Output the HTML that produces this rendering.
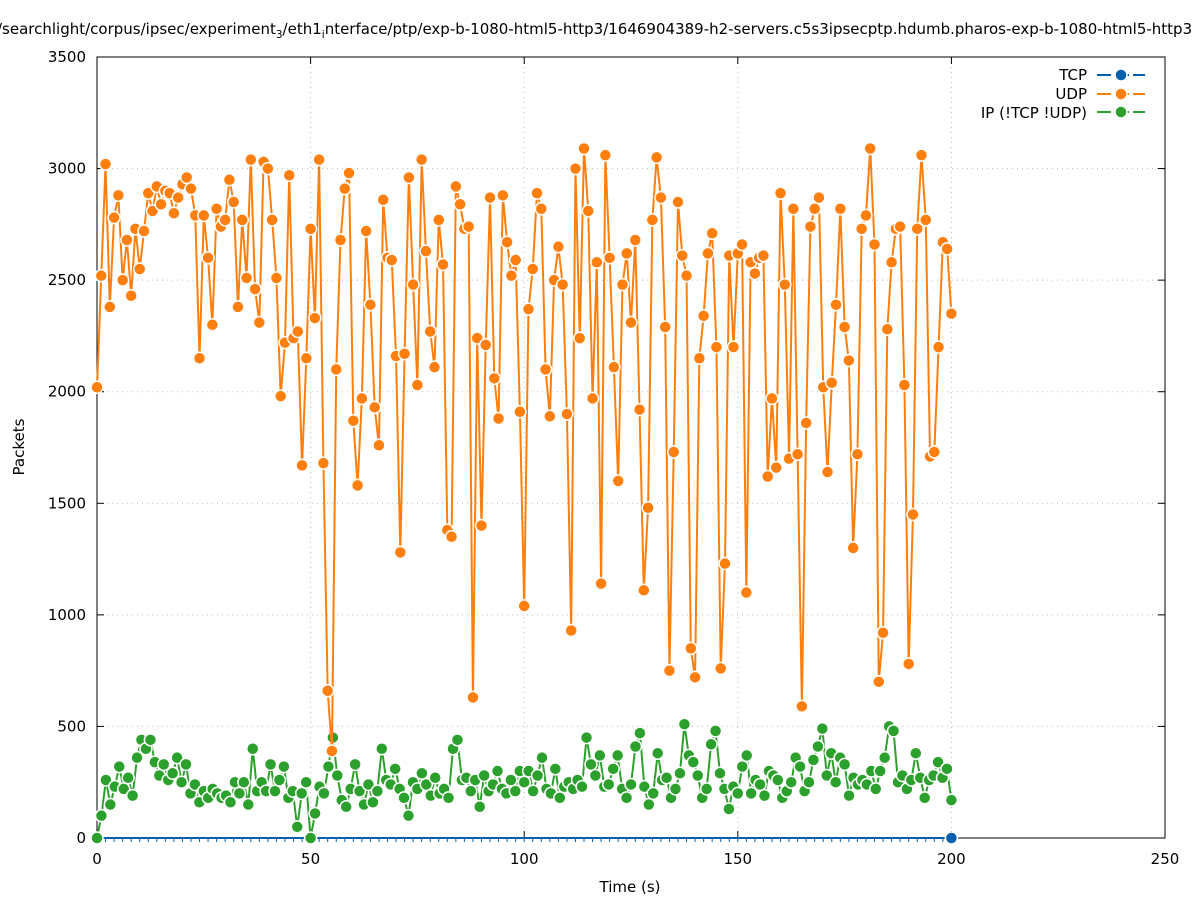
<!DOCTYPE html>
<html><head><meta charset="utf-8"><style>
body{margin:0;background:#fff}
svg{display:block;font-family:"DejaVu Sans","Liberation Sans",sans-serif}
</style></head><body>
<svg id="c" width="1197" height="900" xmlns="http://www.w3.org/2000/svg">
<rect width="1197" height="900" fill="#fff"/>
<text x="-3" y="34" font-size="15" fill="#000">/searchlight/corpus/ipsec/experiment<tspan font-size="10.5" dy="4">3</tspan><tspan dy="-4">/eth1</tspan><tspan font-size="10.5" dy="4">i</tspan><tspan dy="-4">nterface/ptp/exp-b-1080-html5-http3/1646904389-h2-servers.c5s3ipsecptp.hdumb.pharos-exp-b-1080-html5-http3</tspan></text>
<g id="grid"></g>
<rect x="97" y="57" width="1068" height="781" fill="none" stroke="#000" stroke-width="1"/>
<g id="ticks" font-size="15"></g>
<text x="630" y="892" font-size="15" text-anchor="middle">Time (s)</text>
<text x="24" y="447" font-size="15" text-anchor="middle" transform="rotate(-90 24 447)">Packets</text>
<g id="series"></g>
<g font-size="15" text-anchor="end">
<text x="1087" y="80">TCP</text>
<text x="1087" y="99">UDP</text>
<text x="1087" y="118">IP (!TCP  !UDP)</text>
</g>
<g id="legend"></g>
</svg>
<script>
const X=v=>97+v*1068/250, Y=v=>838-v*781/3500;
const ns="http://www.w3.org/2000/svg";
function el(p,t,a){const e=document.createElementNS(ns,t);for(const k in a)e.setAttribute(k,a[k]);p.appendChild(e);return e;}
const g=document.getElementById('grid'),tk=document.getElementById('ticks');
for(let v=0;v<=3500;v+=500){const y=Y(v);
 if(v>0&&v<3500)el(g,'line',{x1:97,x2:1165,y1:y,y2:y,stroke:'#bbb','stroke-dasharray':'1,4'});
 el(tk,'line',{x1:97,x2:104,y1:y,y2:y,stroke:'#000'});el(tk,'line',{x1:1158,x2:1165,y1:y,y2:y,stroke:'#000'});
 const t=el(tk,'text',{x:86,y:y+5,'text-anchor':'end'});t.textContent=v;}
for(let v=0;v<=250;v+=50){const x=X(v);
 if(v>0&&v<250)el(g,'line',{x1:x,x2:x,y1:57,y2:838,stroke:'#bbb','stroke-dasharray':'1,4'});
 el(tk,'line',{x1:x,x2:x,y1:838,y2:831,stroke:'#000'});el(tk,'line',{x1:x,x2:x,y1:57,y2:64,stroke:'#000'});
 const t=el(tk,'text',{x:x,y:864,'text-anchor':'middle'});t.textContent=v;}
const udp=[2020,2520,3020,2380,2780,2880,2500,2680,2430,2730,2550,2720,2890,2810,2920,2840,2900,2890,2800,2870,2930,2960,2910,2790,2150,2790,2600,2300,2820,2740,2770,2950,2850,2380,2770,2510,3040,2460,2310,3030,3000,2770,2510,1980,2220,2970,2240,2270,1670,2150,2730,2330,3040,1680,660,390,2100,2680,2910,2980,1870,1580,1970,2720,2390,1930,1760,2860,2600,2590,2160,1280,2170,2960,2480,2030,3040,2630,2270,2110,2770,2570,1380,1350,2920,2840,2730,2740,630,2240,1400,2210,2870,2060,1880,2880,2670,2520,2590,1910,1040,2370,2550,2890,2820,2100,1890,2500,2650,2480,1900,930,3000,2240,3090,2810,1970,2580,1140,3060,2600,2110,1600,2480,2620,2310,2680,1920,1110,1480,2770,3050,2870,2290,750,1730,2850,2610,2520,850,720,2150,2340,2620,2710,2200,760,1230,2610,2200,2620,2660,1100,2580,2530,2600,2610,1620,1970,1660,2890,2480,1700,2820,1720,590,1860,2740,2820,2870,2020,1640,2040,2390,2820,2290,2140,1300,1720,2730,2790,3090,2660,700,920,2280,2580,2730,2740,2030,780,1450,2730,3060,2770,1710,1730,2200,2670,2640,2350];
const ip=[0,100,260,150,230,320,220,270,190,360,440,400,440,340,280,330,260,290,360,250,330,200,240,160,210,180,220,200,180,190,160,250,200,250,150,400,210,250,210,330,210,260,320,180,210,50,200,250,0,110,230,200,320,450,280,170,140,220,330,210,150,240,160,210,400,260,240,310,220,180,100,250,220,290,240,190,270,200,220,180,400,440,260,270,210,260,140,280,210,240,300,220,200,260,210,300,250,300,210,280,360,220,200,310,180,230,250,220,260,230,450,330,280,370,230,240,310,370,220,180,240,410,470,230,150,200,380,260,270,180,220,290,510,370,340,280,180,220,420,480,290,220,130,230,200,320,370,200,260,240,190,300,280,260,180,210,250,360,320,210,250,350,410,490,280,380,250,360,330,190,270,240,260,240,300,220,300,360,500,480,250,280,220,260,380,270,180,260,280,340,270,310,170];
const s=document.getElementById('series');
function draw(d,c){const n=d.length;const pts=d.map((v,i)=>[X(i*200/(n-1)),Y(v)]);
 el(s,'polyline',{points:pts.map(p=>p.join(',')).join(' '),fill:'none',stroke:c,'stroke-width':2,'stroke-linejoin':'round'});
 for(const p of pts)el(s,'circle',{cx:p[0],cy:p[1],r:6,fill:c,stroke:'#fff','stroke-width':1.5});}
el(s,'line',{x1:X(0),x2:X(200),y1:838,y2:838,stroke:'#0060ad','stroke-width':2});
for(let i=0;i<=200;i+=2)el(s,'line',{x1:X(i),x2:X(i),y1:838,y2:842,stroke:'#0060ad','stroke-width':1});
draw(ip,'#2ca02c');draw(udp,'#ff7f0e');
el(s,'circle',{cx:X(200),cy:838,r:6,fill:'#0060ad',stroke:'#fff','stroke-width':1.5});
const L=document.getElementById('legend');
[['#0060ad',75],['#ff7f0e',94],['#2ca02c',112]].forEach(([c,y])=>{
 el(L,'line',{x1:1097,x2:1145,y1:y,y2:y,stroke:c,'stroke-width':2,'stroke-dasharray':'14,4'});
 el(L,'circle',{cx:1121,cy:y,r:6,fill:c,stroke:'#fff','stroke-width':1.5});});
</script>
</body></html>
